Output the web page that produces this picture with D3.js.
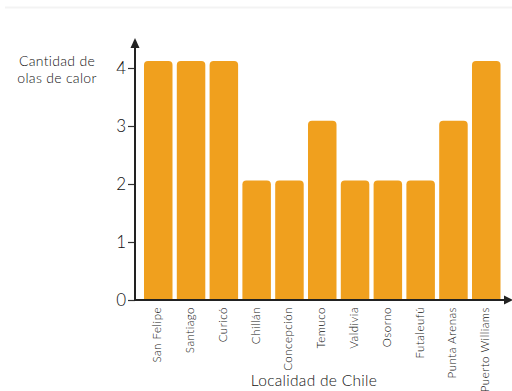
<!DOCTYPE html>
<html><head><meta charset="utf-8">
<script src="https://cdn.jsdelivr.net/npm/d3@7"></script>
<style>body{margin:0;background:#fff;} text{font-family:Lato,"Open Sans",sans-serif;fill:#111;font-weight:300;}</style>
</head><body>
<svg id="c" width="512" height="391"></svg>
<script>
const categories = ["San Felipe","Santiago","Curicó","Chillán","Concepción","Temuco","Valdivia","Osorno","Futaleufú","Punta Arenas","Puerto Williams"];
const values = [4,4,4,2,2,3,2,2,2,3,4];
const yTicks = [0,1,2,3,4];

const svg = d3.select("#c");
const baseY = 300, axisX = 135;

// faint top rule
svg.append("line").attr("x1",5).attr("x2",512).attr("y1",7.5).attr("y2",7.5).attr("stroke","#f3f3f3").attr("stroke-width",2);

const x = d3.scaleBand().domain(categories).range([141.85,502.65]).paddingInner(0.131).paddingOuter(0.0655);
const yAxisScale = d3.scaleLinear().domain([0,4]).range([baseY,68]);
const yBar = d3.scaleLinear().domain([0,4]).range([baseY,61]);

const r = 4;
svg.append("g").selectAll("path").data(values).join("path")
  .attr("fill","#F0A01E")
  .attr("d",(v,i)=>{
    const x0 = x(categories[i]), w = x.bandwidth(), y0 = yBar(v), y1 = baseY;
    return `M${x0},${y1}V${y0+r}Q${x0},${y0} ${x0+r},${y0}H${x0+w-r}Q${x0+w},${y0} ${x0+w},${y0+r}V${y1}Z`;
  });

// y axis
const ya = svg.append("g").attr("transform",`translate(${axisX},0)`)
  .call(d3.axisLeft(yAxisScale).tickValues(yTicks).tickFormat(d3.format("d")).tickSize(7).tickPadding(2));
ya.select(".domain").remove();
ya.selectAll(".tick line").attr("stroke","#333").attr("stroke-width",1.2);
ya.selectAll(".tick text").attr("font-size",17).attr("fill","#111").style("font-family","Lato, sans-serif").style("font-weight",300);

// axes lines with arrows
svg.append("line").attr("x1",axisX).attr("x2",axisX).attr("y1",baseY+0.5).attr("y2",46).attr("stroke","#222").attr("stroke-width",2);
svg.append("path").attr("d",`M${axisX},38L${axisX-4.5},48L${axisX+4.5},48Z`).attr("fill","#222");
svg.append("line").attr("x1",axisX-1).attr("x2",506).attr("y1",baseY).attr("y2",baseY).attr("stroke","#222").attr("stroke-width",2);
svg.append("path").attr("d",`M513,${baseY}L504,${baseY-4.5}L504,${baseY+4.5}Z`).attr("fill","#222");

// x labels
svg.append("g").selectAll("text").data(categories).join("text")
  .attr("transform",d=>`translate(${x(d)+x.bandwidth()/2-1},307) rotate(-90)`)
  .attr("text-anchor","end").attr("dy","0.35em").attr("font-size",11.5).attr("letter-spacing",0.5).text(d=>d);

// titles
svg.append("text").attr("x",314).attr("y",386).attr("text-anchor","middle").attr("font-size",15.5).attr("letter-spacing",0.3).text("Localidad de Chile");
svg.append("text").attr("x",57).attr("y",66).attr("text-anchor","middle").attr("font-size",14).attr("letter-spacing",0.3).text("Cantidad de");
svg.append("text").attr("x",57).attr("y",83).attr("text-anchor","middle").attr("font-size",14).attr("letter-spacing",0.3).text("olas de calor");
</script>
</body></html>
